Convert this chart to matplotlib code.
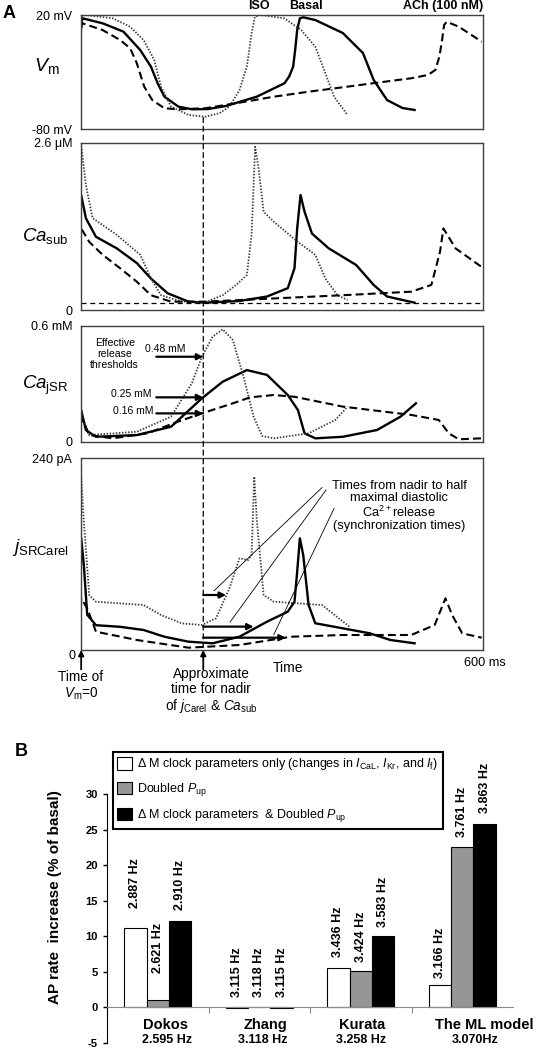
import matplotlib
matplotlib.use('Agg')
import matplotlib.pyplot as plt
import numpy as np
from matplotlib.patches import ConnectionPatch

plt.rcParams['font.family'] = ['Liberation Sans', 'DejaVu Sans']
plt.rcParams['mathtext.fontset'] = 'custom'
plt.rcParams['mathtext.rm'] = 'Liberation Sans'
plt.rcParams['mathtext.it'] = 'Liberation Sans:italic'
plt.rcParams['mathtext.bf'] = 'Liberation Sans:bold'
plt.rcParams['axes.unicode_minus'] = False

# ---- panel A: traces, time in ms ----
vm_basal_t = [0, 1, 3, 33, 64, 89, 105, 115, 125, 146, 166, 190, 217, 263, 304, 311, 317, 320, 323, 327, 332, 350, 391, 421, 437, 457, 480, 498]
vm_basal = [-2, 12, 17.1, 12.7, 5.4, -10.7, -25.3, -39.9, -51.6, -60.4, -62.7, -62.5, -59.8, -51.6, -39.9, -34, -25.3, -10.7, 6.8, 17.1, 18, 15.6, 4.2, -13.3, -37, -54.6, -61.6, -63.3]
vm_iso_t = [0, 2, 8, 48, 74, 94, 110, 120, 135, 161, 186, 207, 222, 237, 248, 255, 260, 268, 304, 329, 350, 365, 378, 398]
vm_iso = [0, 19, 20, 17.1, 9.7, -1.9, -19.5, -42.9, -60.4, -67.7, -69.2, -66.2, -60.4, -45.8, -25.3, 3.9, 18.5, 20, 17.1, 6.8, -7.8, -31.1, -51.6, -67.7]
vm_ach_t = [0, 1.5, 3, 33, 59, 74, 84, 95, 107, 125, 146, 186, 237, 289, 340, 391, 442, 493, 518, 529, 535, 539, 542, 546, 564, 598]
vm_ach = [-2, 10, 12.7, 6.8, -1.9, -9.2, -22.4, -42.9, -54.6, -61.8, -62.7, -61.8, -56.9, -51.6, -47.3, -43.4, -39.4, -35.5, -32.6, -28.2, -16.5, -1.9, 11.2, 14.1, 9.7, -3.4]

ca_basal_t = [0, 1, 8, 23, 54, 84, 105, 130, 161, 186, 237, 278, 309, 319, 323, 328, 334, 345, 370, 411, 437, 457, 498]
ca_basal = [1.5, 1.79, 1.43, 1.14, 0.96, 0.73, 0.49, 0.26, 0.13, 0.114, 0.14, 0.21, 0.34, 0.65, 1.27, 1.79, 1.53, 1.19, 0.96, 0.70, 0.39, 0.21, 0.114]
ca_iso_t = [0, 1, 8, 18, 54, 89, 105, 120, 151, 186, 212, 232, 248, 255, 259, 260.4, 265.5, 273, 288.5, 324, 350, 365, 383, 398]
ca_iso = [2.3, 2.57, 1.95, 1.43, 1.17, 0.86, 0.49, 0.23, 0.13, 0.12, 0.23, 0.39, 0.545, 1.17, 2.2, 2.54, 2.2, 1.53, 1.37, 1.06, 0.86, 0.49, 0.23, 0.156]
ca_ach_t = [0, 1, 13, 33, 59, 84, 105, 135, 186, 288, 391, 493, 523, 536, 541, 559, 598]
ca_ach = [1.1, 1.27, 1.06, 0.86, 0.65, 0.44, 0.23, 0.13, 0.13, 0.18, 0.23, 0.285, 0.39, 0.91, 1.27, 0.96, 0.67]
ca_rest = 0.109

sr_basal_t = [0, 1, 8, 23, 84, 135, 181, 212, 248, 278, 309, 324, 334, 350, 391, 442, 477, 500]
sr_basal = [0.17, 0.166, 0.062, 0.027, 0.036, 0.079, 0.226, 0.312, 0.372, 0.347, 0.243, 0.166, 0.045, 0.019, 0.027, 0.062, 0.131, 0.2]
sr_iso_t = [0, 1, 13, 84, 135, 166, 181, 197, 212, 227, 243, 258, 271, 288.5, 340, 380, 398]
sr_iso = [0.16, 0.148, 0.036, 0.053, 0.131, 0.304, 0.441, 0.545, 0.583, 0.528, 0.338, 0.131, 0.031, 0.019, 0.045, 0.114, 0.183]
sr_ach_t = [0, 1, 13, 48, 100, 145, 181, 227, 253, 288, 319, 391, 493, 534, 549, 564, 598]
sr_ach = [0.14, 0.131, 0.036, 0.019, 0.045, 0.105, 0.148, 0.2, 0.231, 0.243, 0.234, 0.183, 0.14, 0.114, 0.045, 0.014, 0.019]

j_basal_t = [0, 1, 5, 10, 23, 59, 94, 125, 161, 197, 237, 278, 309, 319, 323, 327, 332, 340, 350, 391, 431, 462, 498]
j_basal = [60, 140, 106, 44, 31, 29, 25, 16.6, 10.4, 8.4, 16.6, 35.4, 47.9, 60.4, 97.9, 139.6, 118.8, 56.3, 33.4, 27.1, 20.9, 12.5, 8.4]
j_iso_t = [0, 1, 5, 13, 23, 94, 120, 151, 181, 202, 222, 237, 250, 255, 259, 263, 273, 288, 360, 385, 401]
j_iso = [80, 216.6, 160.4, 68.75, 60.4, 56.25, 43.75, 33.3, 31.25, 39.6, 77.1, 114.6, 112.5, 118.75, 216.6, 160.4, 68.75, 60.4, 56.25, 39.6, 29.2]
j_ach_t = [0, 1, 10, 23, 84, 161, 237, 314, 391, 493, 528, 544, 554, 569, 598]
j_ach = [40, 64.6, 52.1, 22.9, 12.5, 2.9, 6.25, 16.6, 18.75, 18.75, 31.25, 64.6, 43.75, 20.8, 15.4]

nadir_t = 183
thresholds = [0.441, 0.231, 0.148]
threshold_labels = ['0.48 mM', '0.25 mM', '0.16 mM']
sync_levels = [68.75, 29.2, 15.4]
sync_ends = [217, 258, 306]

# ---- panel B ----
models = ['Dokos', 'Zhang', 'Kurata', 'The ML model']
basal_rates = ['2.595 Hz', '3.118 Hz', '3.258 Hz', '3.070Hz']
clock_only = [11.2, -0.1, 5.5, 3.1]
doubled_pup = [1.0, 0.0, 5.1, 22.5]
clock_and_pup = [12.1, -0.1, 10.0, 25.8]
clock_only_hz = ['2.887 Hz', '3.115 Hz', '3.436 Hz', '3.166 Hz']
doubled_pup_hz = ['2.621 Hz', '3.118 Hz', '3.424 Hz', '3.761 Hz']
clock_and_pup_hz = ['2.910 Hz', '3.115 Hz', '3.583 Hz', '3.863 Hz']

W, H = 537, 1050
fig = plt.figure(figsize=(W / 100, H / 100), dpi=100)


def axes_px(left, top, right, bottom):
    return fig.add_axes([left / W, 1 - bottom / H, (right - left) / W, (bottom - top) / H])


def ftext(x, y, s, **kw):
    fig.text(x / W, 1 - y / H, s, **kw)


basal_style = dict(color='black', lw=1.7, ls='-')
iso_style = dict(color='#3a3a3a', lw=1.3, ls=(0, (0.8, 0.9)))
ach_style = dict(color='black', lw=1.5, ls=(0, (3.8, 2.0)))

panels = [
    ((15, 129), (-80, 20), ['-80 mV', '20 mV'],
     [(vm_basal_t, vm_basal), (vm_iso_t, vm_iso), (vm_ach_t, vm_ach)]),
    ((143, 310), (0, 2.6), ['0', '2.6 \u03bcM'],
     [(ca_basal_t, ca_basal), (ca_iso_t, ca_iso), (ca_ach_t, ca_ach)]),
    ((326, 442), (0, 0.6), ['0', '0.6 mM'],
     [(sr_basal_t, sr_basal), (sr_iso_t, sr_iso), (sr_ach_t, sr_ach)]),
    ((458, 650), (0, 240), ['', '240 pA'],
     [(j_basal_t, j_basal), (j_iso_t, j_iso), (j_ach_t, j_ach)]),
]
axs = []
for (top, bottom), (lo, hi), labels, traces in panels:
    ax = axes_px(80.5, top, 483, bottom)
    for (t, v), st in zip(traces, [basal_style, iso_style, ach_style]):
        ax.plot(t, v, **st)
    ax.set_xlim(0, 600)
    ax.set_ylim(lo, hi)
    ax.set_xticks([])
    ax.set_yticks([lo, hi])
    ax.set_yticklabels(labels)
    ax.tick_params(length=0, pad=6, labelsize=9)
    for sp in ax.spines.values():
        sp.set_linewidth(1.0)
        sp.set_color('#404040')
    axs.append(ax)
ax_vm, ax_ca, ax_sr, ax_j = axs

ax_ca.axhline(ca_rest, color='black', lw=0.9, ls=(0, (4, 3)))

# nadir line through all four panels
con = ConnectionPatch(xyA=(nadir_t, -70), coordsA=ax_vm.transData,
                      xyB=(nadir_t, 0), coordsB=ax_j.transData,
                      color='black', lw=0.9, ls=(0, (4, 3)))
fig.add_artist(con)

arrow_kw = dict(arrowstyle='-|>', color='black', lw=1.6, mutation_scale=9, shrinkA=0, shrinkB=0)
for lvl in thresholds:
    ax_sr.annotate('', xy=(nadir_t, lvl), xytext=(113, lvl), arrowprops=arrow_kw)
ax_sr.text(126, 0.479, threshold_labels[0], fontsize=7.5, ha='center', va='center')
ax_sr.text(75, 0.247, threshold_labels[1], fontsize=7.5, ha='center', va='center')
ax_sr.text(78, 0.16, threshold_labels[2], fontsize=7.5, ha='center', va='center')
ax_sr.text(51, 0.455, 'Effective\nrelease\nthresholds', fontsize=7.6, ha='center', va='center',
           linespacing=1.1)

for lvl, end in zip(sync_levels, sync_ends):
    ax_j.annotate('', xy=(end, lvl), xytext=(nadir_t, lvl), arrowprops=arrow_kw)
# leader lines from the note to the arrows
for (x0, y0), (x1, y1) in [((360, 203), (199, 74)), ((366, 200), (223, 35)), ((378, 177), (288, 19))]:
    ax_j.plot([x0, x1], [y0, y1], color='black', lw=0.6)
ax_j.text(475, 213, 'Times from nadir to half\nmaximal diastolic\nCa$^{2+}$release\n(synchronization times)',
          fontsize=9.3, ha='center', va='top', linespacing=1.05)

up_kw = dict(arrowstyle='-|>', color='black', lw=1.3, mutation_scale=8, shrinkA=0, shrinkB=0)
for t in [1, nadir_t]:
    ax_j.annotate('', xy=(t, 0), xytext=(0, -14), textcoords='offset points',
                  arrowprops=up_kw, annotation_clip=False)

# y labels of panel A
ftext(60, 66, r'$\mathit{V}_\mathrm{m}$', fontsize=14, ha='right', va='center')
ftext(69, 236, r'$\mathit{Ca}_\mathrm{sub}$', fontsize=13.5, ha='right', va='center')
ftext(69, 385, r'$\mathit{Ca}_\mathrm{jSR}$', fontsize=13.5, ha='right', va='center')
ftext(69, 548, r'$\mathit{j}_\mathrm{SRCarel}$', fontsize=13.5, ha='right', va='center')

ftext(259, 6, 'ISO', fontsize=9, weight='bold', ha='center', va='center')
ftext(306, 6, 'Basal', fontsize=9, weight='bold', ha='center', va='center')
ftext(483, 6, 'ACh (100 nM)', fontsize=9, weight='bold', ha='right', va='center')
ftext(3, 14, 'A', fontsize=13, weight='bold', ha='left', va='center')
ftext(15, 751, 'B', fontsize=13, weight='bold', ha='left', va='center')

ftext(72, 656, '0', fontsize=9, ha='center', va='center')
ftext(81, 686, 'Time of\n' + r'$\mathit{V}_\mathrm{m}$=0', fontsize=9.8, ha='center', va='center',
      linespacing=1.15)
ftext(211, 691, 'Approximate\ntime for nadir\n' + r'of $\mathit{j}_\mathrm{Carel}$ & $\mathit{Ca}_\mathrm{sub}$',
      fontsize=9.8, ha='center', va='center', linespacing=1.1)
ftext(288, 668, 'Time', fontsize=10, ha='center', va='center')
ftext(485, 663, '600 ms', fontsize=9.2, ha='center', va='center')

# ---- panel B ----
axb = axes_px(107, 794, 513, 1043)
x = np.arange(len(models))
width = 0.22
series = [
    (clock_only, clock_only_hz, 'white', -width),
    (doubled_pup, doubled_pup_hz, '#969696', 0),
    (clock_and_pup, clock_and_pup_hz, 'black', width),
]
label_pad = [[14.4, 19.4, 8], [7.2, 7.2, 7.2], [8, 6.5, 6.5], [5, 7.2, 8]]
handles = []
for k, (vals, hz, col, off) in enumerate(series):
    bars = axb.bar(x + off, vals, width, color=col, edgecolor='black', linewidth=0.8)
    handles.append(bars)
    for i, (v, lab) in enumerate(zip(vals, hz)):
        axb.annotate(lab, xy=(x[i] + off, max(v, 0)), xytext=(0, label_pad[i][k]),
                     textcoords='offset points', rotation=90, ha='center', va='bottom',
                     fontsize=9, fontweight='bold')

axb.set_xlim(-0.5, 3.5)
axb.set_ylim(-5, 30)
axb.set_yticks(range(-5, 31, 5))
axb.tick_params(axis='y', labelsize=8, length=3, width=1)
for lab in axb.get_yticklabels():
    lab.set_fontweight('bold')
axb.spines['top'].set_visible(False)
axb.spines['right'].set_visible(False)
axb.spines['bottom'].set_position(('data', 0))
axb.spines['bottom'].set_color('#8c8c8c')
axb.set_xticks([0.5, 1.5, 2.5])
axb.set_xticklabels([])
axb.tick_params(axis='x', length=4, color='#8c8c8c')

name_shift = [0.08, 0.06, 0.015, 0.22]
rate_shift = [0.09, 0.03, 0.0, 0.13]
for i, (name, rate) in enumerate(zip(models, basal_rates)):
    axb.text(x[i] + name_shift[i], -2.5, name, ha='center', va='center', fontsize=10.5, fontweight='bold')
    axb.text(x[i] + rate_shift[i], -4.6, rate, ha='center', va='center', fontsize=9, fontweight='bold')

ftext(55, 897, 'AP rate  increase (% of basal)', rotation=90, fontsize=11, fontweight='bold',
      ha='center', va='center')

leg_labels = [
    r'$\Delta$ M clock parameters only (changes in $\mathit{I}_\mathrm{CaL}$, $\mathit{I}_\mathrm{Kr}$, and $\mathit{I}_\mathrm{f}$)',
    r'Doubled $\mathit{P}_\mathrm{up}$',
    r'$\Delta$ M clock parameters  & Doubled $\mathit{P}_\mathrm{up}$',
]
leg = axb.legend(handles, leg_labels, loc='upper left', bbox_to_anchor=(113 / W, 1 - 752 / H),
                 bbox_transform=fig.transFigure, fancybox=False, edgecolor='black', framealpha=1,
                 fontsize=9, handlelength=1.2, handleheight=1.2, handletextpad=0.4,
                 borderpad=0.35, labelspacing=0.72, borderaxespad=0)
leg.get_frame().set_linewidth(1.5)

fig.savefig('out.png', dpi=100)
